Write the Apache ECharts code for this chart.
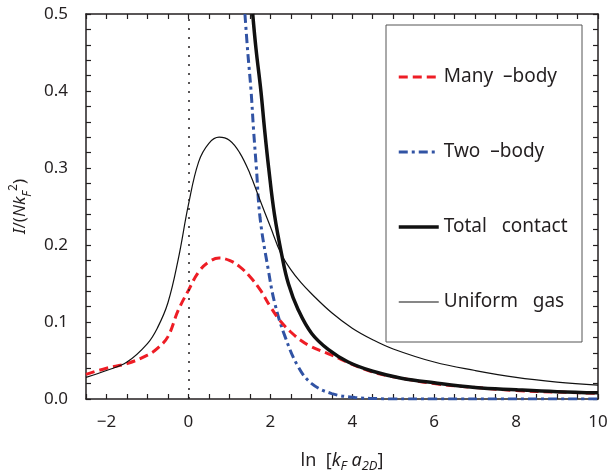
<!DOCTYPE html>
<html>
<head>
<meta charset="utf-8">
<script src="https://cdn.jsdelivr.net/npm/echarts@6/dist/echarts.min.js"></script>
<style>
  html, body { margin: 0; padding: 0; background: #fff; }
  #chart { width: 608px; height: 472px; }
</style>
</head>
<body>
<div id="chart"></div>
<script>
// values, [ln(kF a2D), I/(N kF^2)]
const manyBody = [
  [-2.5, 0.032], [-2.0, 0.040], [-1.5, 0.046], [-1.0, 0.057], [-0.75, 0.066],
  [-0.5, 0.081], [-0.25, 0.115], [0.0, 0.141], [0.25, 0.165], [0.5, 0.178],
  [0.75, 0.183], [1.0, 0.180], [1.25, 0.172], [1.5, 0.159], [1.75, 0.142],
  [2.0, 0.120], [2.25, 0.101], [2.5, 0.087], [2.75, 0.076], [3.0, 0.068],
  [3.5, 0.057], [4.0, 0.045], [4.5, 0.035], [5.0, 0.029], [6.0, 0.020],
  [7.0, 0.015], [8.0, 0.011], [9.0, 0.009], [10.0, 0.0075]
];
const twoBody = [
  [1.38, 0.50], [1.45, 0.45], [1.53, 0.40], [1.59, 0.35], [1.66, 0.30],
  [1.75, 0.235], [1.95, 0.168], [2.11, 0.124], [2.36, 0.081], [2.68, 0.042],
  [3.01, 0.020], [3.5, 0.007], [4.07, 0.002], [4.6, 0.0005], [5.0, 0.0],
  [6.0, 0.0], [8.0, 0.0], [10.0, 0.0]
];
const totalContact = [
  [1.57, 0.50], [1.65, 0.455], [1.77, 0.40], [1.86, 0.35], [1.96, 0.30],
  [2.1, 0.24], [2.28, 0.187], [2.44, 0.150], [2.68, 0.116], [3.01, 0.085],
  [3.42, 0.064], [3.9, 0.048], [4.5, 0.036], [5.2, 0.027], [6.0, 0.021],
  [7.0, 0.015], [8.0, 0.012], [9.0, 0.0095], [10.0, 0.008]
];
const uniformGas = [
  [-2.5, 0.028], [-2.0, 0.037], [-1.5, 0.048], [-1.0, 0.072], [-0.75, 0.093],
  [-0.5, 0.125], [-0.25, 0.181], [0.0, 0.252], [0.25, 0.308], [0.5, 0.332],
  [0.75, 0.340], [1.0, 0.336], [1.25, 0.320], [1.5, 0.293], [1.75, 0.258],
  [2.0, 0.224], [2.25, 0.190], [2.5, 0.168], [2.75, 0.151], [3.0, 0.137],
  [3.5, 0.112], [4.0, 0.092], [4.5, 0.077], [5.0, 0.065], [6.0, 0.048],
  [7.0, 0.037], [8.0, 0.028], [9.0, 0.022], [10.0, 0.018]
];
const legendNames = ['Many  \u2013body', 'Two  \u2013body', 'Total   contact', 'Uniform   gas'];
const xTickLabels = [-2, 0, 2, 4, 6, 8, 10];
const yTickLabels = [0.0, 0.1, 0.2, 0.3, 0.4, 0.5];

const font = 'Noto Sans';
const ink = '#231f20';
const red = '#ee1d25';
const blue = '#3153a4';

function nearly(a, b) { return Math.abs(a - b) < 1e-6; }

const chart = echarts.init(document.getElementById('chart'));

const baseAxis = {
  axisLine: { show: true, onZero: false, lineStyle: { color: ink, width: 1.5 } },
  axisTick: { show: true, inside: true, length: 5, lineStyle: { color: ink, width: 1.2 } },
  splitLine: { show: false }
};

const lineStyles = [
  { color: red, width: 3, type: [9, 5] },
  { color: blue, width: 3, type: [9, 4, 3, 4] },
  { color: '#111', width: 3.5, type: 'solid' },
  { color: '#111', width: 1.2, type: 'solid' }
];

const option = {
  animation: false,
  backgroundColor: '#fff',
  grid: { left: 86, top: 14, right: 10, bottom: 73, containLabel: false, outerBoundsMode: 'none' },
  xAxis: [
    Object.assign({}, baseAxis, {
      type: 'value', min: -2.5, max: 10, interval: 0.5, position: 'bottom',
      name: '{n|ln  [}{i|k}{s|F}{i| a}{s|2D}{n|]}',
      nameLocation: 'middle', nameGap: 50,
      nameTextStyle: {
        rich: {
          n: { fontFamily: font, fontSize: 18, color: ink, lineHeight: 24, verticalAlign: 'middle' },
          i: { fontFamily: font, fontSize: 18, fontStyle: 'italic', color: ink, lineHeight: 24, verticalAlign: 'middle' },
          s: { fontFamily: font, fontSize: 13, fontStyle: 'italic', color: ink, verticalAlign: 'bottom' }
        }
      },
      axisLabel: {
        margin: 15, fontFamily: font, fontSize: 17, color: ink,
        formatter: function (v) {
          const hit = xTickLabels.find(t => nearly(t, v));
          if (hit === undefined) return '';
          return hit < 0 ? '\u2212' + Math.abs(hit) : String(hit);
        }
      }
    }),
    Object.assign({}, baseAxis, {
      type: 'value', min: -2.5, max: 10, interval: 0.5, position: 'top',
      axisLabel: { show: false }
    })
  ],
  yAxis: [
    Object.assign({}, baseAxis, {
      type: 'value', min: 0, max: 0.5, interval: 0.02, position: 'left',
      name: '{i|I}{n|/(}{i|Nk}{s|F}{p|2}{n|)}',
      nameLocation: 'middle', nameRotate: 90, nameGap: 52,
      nameTextStyle: {
        rich: {
          n: { fontFamily: font, fontSize: 17, color: ink, lineHeight: 26, verticalAlign: 'middle' },
          i: { fontFamily: font, fontSize: 17, fontStyle: 'italic', color: ink, lineHeight: 26, verticalAlign: 'middle' },
          s: { fontFamily: font, fontSize: 12, fontStyle: 'italic', color: ink, verticalAlign: 'bottom' },
          p: { fontFamily: font, fontSize: 12, color: ink, verticalAlign: 'top' }
        }
      },
      axisLabel: {
        margin: 18, fontFamily: font, fontSize: 17, color: ink,
        formatter: function (v) {
          const hit = yTickLabels.find(t => nearly(t, v));
          return hit === undefined ? '' : hit.toFixed(1);
        }
      }
    }),
    Object.assign({}, baseAxis, {
      type: 'value', min: 0, max: 0.5, interval: 0.02, position: 'right',
      axisLabel: { show: false }
    })
  ],
  legend: {
    orient: 'vertical',
    left: 392, top: 62,
    itemWidth: 40, itemHeight: 16, itemGap: 55,
    itemStyle: { opacity: 0 },
    textStyle: { fontFamily: font, fontSize: 19, lineHeight: 20, color: ink },
    data: legendNames.map((n, i) => ({ name: n, lineStyle: lineStyles[i] }))
  },
  graphic: [{
    type: 'rect',
    shape: { x: 386, y: 25, width: 196, height: 317 },
    style: { fill: 'none', stroke: '#555', lineWidth: 1 },
    z: 5
  }],
  series: [
    {
      name: legendNames[0], type: 'line', data: manyBody, smooth: 0.4, symbol: 'none',
      lineStyle: lineStyles[0], itemStyle: { color: red },
      z: 3,
      markLine: {
        silent: true, symbol: ['none', 'none'], label: { show: false },
        lineStyle: { color: ink, width: 1.5, type: [2, 7] },
        data: [{ xAxis: 0 }]
      }
    },
    {
      name: legendNames[1], type: 'line', data: twoBody, smooth: 0.4, symbol: 'none',
      lineStyle: lineStyles[1], itemStyle: { color: blue },
      z: 2
    },
    {
      name: legendNames[2], type: 'line', data: totalContact, smooth: 0.4, symbol: 'none',
      lineStyle: lineStyles[2], itemStyle: { color: '#111' },
      z: 4
    },
    {
      name: legendNames[3], type: 'line', data: uniformGas, smooth: 0.4, symbol: 'none',
      lineStyle: lineStyles[3], itemStyle: { color: '#111' },
      z: 4
    }
  ]
};

chart.setOption(option);
</script>
</body>
</html>
